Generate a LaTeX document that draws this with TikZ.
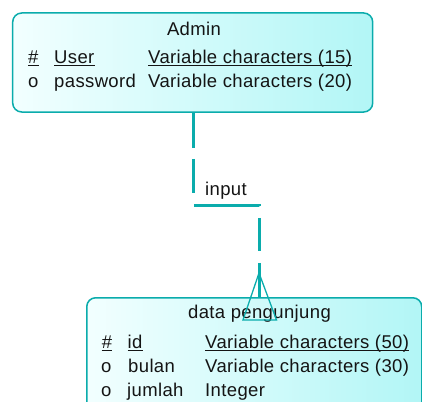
\documentclass[tikz,border=0pt]{standalone}
\usepackage{fontspec}
\setmainfont{Liberation Sans}[LetterSpace=2]
\definecolor{teal1}{RGB}{10,172,172}
\definecolor{boxA}{RGB}{242,255,255}
\definecolor{boxB}{RGB}{178,246,246}
\definecolor{txt}{RGB}{20,20,20}
\begin{document}
\begin{tikzpicture}[x=1pt,y=-1pt, font=\fontsize{18.5}{20}\selectfont,
  every node/.style={inner sep=0pt, text=txt},
  entity/.style={draw=teal1, line width=1.5pt, rounded corners=9pt, left color=boxA, right color=boxB},
  rel/.style={draw=teal1, line width=3pt},
  crow/.style={draw=teal1, line width=1.3pt},
  lab/.style={anchor=base west},
  ttl/.style={anchor=base},
  ul/.style={line width=1pt, draw=txt}]
\useasboundingbox (0,0) rectangle (422,401);
\clip (0,0) rectangle (422,401);
% entities
\node[entity, minimum width=360pt, minimum height=99pt] (admin) at (192.7,62.5) {};
\node[entity, minimum width=335pt, minimum height=130pt, anchor=north west] (data) at (86,297) {};
% admin text
\node[ttl] (adminT) at (194,36) {Admin};
\node[lab] (a1k) at (28,64) {\#};
\node[lab] (a1n) at (54,64) {User};
\node[lab] (a1t) at (148,64) {Variable characters (15)};
\node[lab] (a2k) at (28,88) {o};
\node[lab] (a2n) at (54,88) {password};
\node[lab] (a2t) at (148,88) {Variable characters (20)};
\foreach \n in {a1k,a1n,a1t}{\draw[ul] ([yshift=-2pt]\n.base west) -- ([yshift=-2pt]\n.base east);}
% data text
\node[ttl] (dataT) at (259.5,318) {data pengunjung};
\node[lab] (d1k) at (101.7,348) {\#};
\node[lab] (d1n) at (127.5,348) {id};
\node[lab] (d1t) at (205,348) {Variable characters (50)};
\node[lab] (d2k) at (101,372) {o};
\node[lab] (d2n) at (128,372) {bulan};
\node[lab] (d2t) at (205,372) {Variable characters (30)};
\node[lab] (d3k) at (101,396) {o};
\node[lab] (d3n) at (127,396) {jumlah};
\node[lab] (d3t) at (205,396) {Integer};
\foreach \n in {d1k,d1n,d1t}{\draw[ul] ([yshift=-2pt]\n.base west) -- ([yshift=-2pt]\n.base east);}
% relationship
\coordinate (c1) at (193,205);
\coordinate (c2) at (259,205);
\draw[rel, dash pattern=on 35pt off 11pt on 34pt off 13pt on 66pt off 12pt on 33pt off 12pt on 40pt off 0pt]
  (admin.south -| c1) -- (c1) -- (c2) -- (c2 |- data.north);
\node[lab] (inp) at (205,195) {input};
% crow's foot
\coordinate (apex) at (259,273);
\coordinate (fl) at (243,320);
\coordinate (fr) at (276.5,320);
\draw[crow] (fl) -- (apex) -- (fr) -- cycle;
\end{tikzpicture}
\end{document}
